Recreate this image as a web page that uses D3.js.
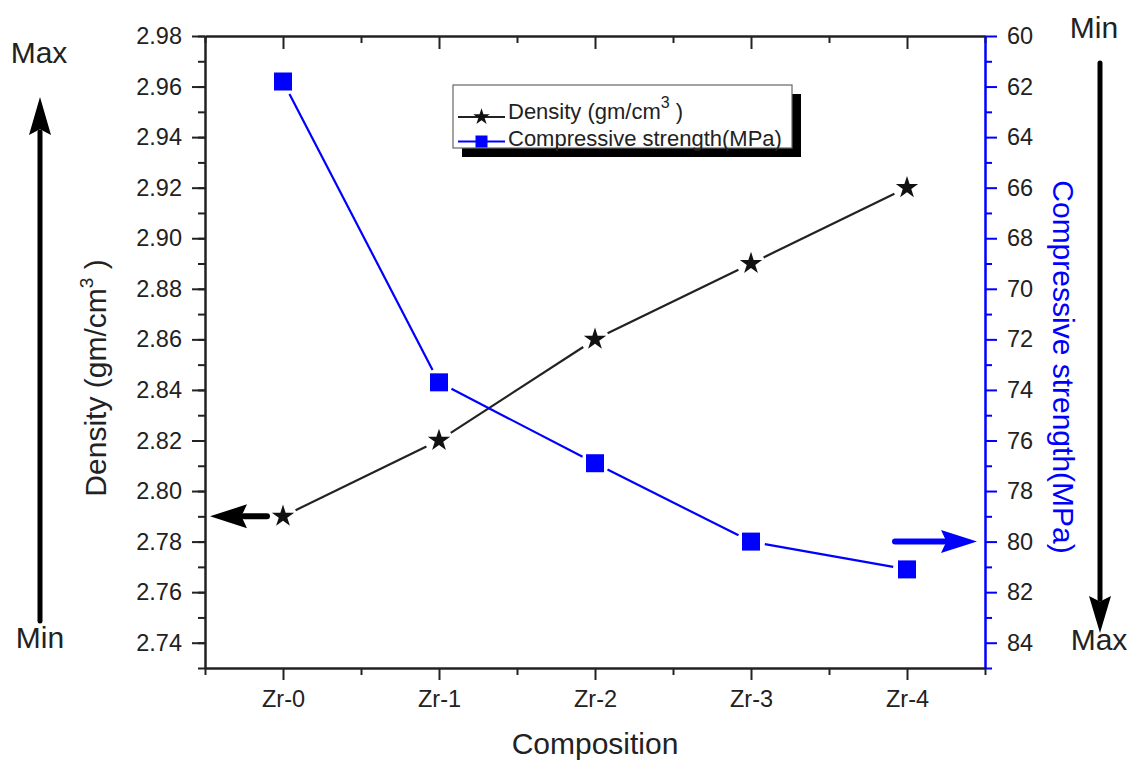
<!DOCTYPE html>
<html>
<head>
<meta charset="utf-8">
<script src="https://cdn.jsdelivr.net/npm/d3@7"></script>
<style>
  html, body { margin: 0; padding: 0; background: #fff; }
  svg { display: block; font-family: "Liberation Sans", Arial, sans-serif; }
  .axis text { fill: #222; font-size: 23.5px; font-family: "Liberation Sans", Arial, sans-serif; }
</style>
</head>
<body>
<svg id="chart" width="1128" height="762"></svg>
<script>
// Composition categories and measured properties
const categories = ["Zr-0", "Zr-1", "Zr-2", "Zr-3", "Zr-4"];
const density = [2.79, 2.82, 2.86, 2.89, 2.92];          // gm/cm^3
const strength = [61.8, 73.7, 76.9, 80.0, 81.1];         // MPa
const densityTicks = [2.74, 2.76, 2.78, 2.80, 2.82, 2.84, 2.86, 2.88, 2.90, 2.92, 2.94, 2.96, 2.98];
const strengthTicks = [60, 62, 64, 66, 68, 70, 72, 74, 76, 78, 80, 82, 84];
const densityMinor = d3.range(2.73, 2.985, 0.01).map(v => +v.toFixed(2));
const strengthMinor = d3.range(61, 86, 2);
const xMinor = [-0.5, 0.5, 1.5, 2.5, 3.5, 4.5];

const BLUE = "#0000ff";
const INK = "#222";

const svg = d3.select("#chart");

const pLeft = 205, pRight = 985, pTop = 36, pBottom = 668;

const x = d3.scaleLinear().domain([-0.5, 4.5]).range([pLeft, pRight]);
const yL = d3.scaleLinear().domain([2.73, 2.98]).range([pBottom, pTop]);
const yR = d3.scaleLinear().domain([85, 60]).range([pBottom, pTop]);

function styleAxis(g, color) {
  g.selectAll("path.domain").attr("stroke", color).attr("stroke-width", 2);
  g.selectAll(".tick line").attr("stroke", color).attr("stroke-width", 2);
}

// minor ticks (drawn first so the axis lines sit on top)
svg.append("g").attr("transform", `translate(${pLeft},0)`)
  .call(d3.axisLeft(yL).tickValues(densityMinor).tickSize(7).tickFormat("").tickSizeOuter(0))
  .call(g => styleAxis(g, INK));
svg.append("g").attr("transform", `translate(${pRight},0)`)
  .call(d3.axisRight(yR).tickValues(strengthMinor).tickSize(7).tickFormat("").tickSizeOuter(0))
  .call(g => styleAxis(g, BLUE));
svg.append("g").attr("transform", `translate(0,${pBottom})`)
  .call(d3.axisBottom(x).tickValues(xMinor).tickSize(7).tickFormat("").tickSizeOuter(0))
  .call(g => styleAxis(g, INK));
svg.append("g").attr("transform", `translate(0,${pTop})`)
  .call(d3.axisTop(x).tickValues(xMinor).tickSize(-7).tickFormat("").tickSizeOuter(0))
  .call(g => styleAxis(g, INK));

// major axes
svg.append("g").attr("class", "axis").attr("transform", `translate(0,${pTop})`)
  .call(d3.axisTop(x).tickValues([0, 1, 2, 3, 4]).tickSize(-13).tickFormat("").tickSizeOuter(0))
  .call(g => styleAxis(g, INK));
svg.append("g").attr("class", "axis").attr("transform", `translate(0,${pBottom})`)
  .call(d3.axisBottom(x).tickValues([0, 1, 2, 3, 4]).tickSize(12).tickPadding(10)
    .tickFormat(i => categories[i]).tickSizeOuter(0))
  .call(g => styleAxis(g, INK));
svg.append("g").attr("class", "axis").attr("transform", `translate(${pLeft},0)`)
  .call(d3.axisLeft(yL).tickValues(densityTicks).tickSize(13).tickPadding(10)
    .tickFormat(d3.format(".2f")).tickSizeOuter(0))
  .call(g => styleAxis(g, INK));
svg.append("g").attr("class", "axis").attr("transform", `translate(${pRight},0)`)
  .call(d3.axisRight(yR).tickValues(strengthTicks).tickSize(12).tickPadding(10).tickSizeOuter(0))
  .call(g => styleAxis(g, BLUE));

// axis titles
svg.append("text").attr("x", (pLeft + pRight) / 2).attr("y", 754)
  .attr("text-anchor", "middle").attr("font-size", 30).attr("fill", INK)
  .text("Composition");

const lt = svg.append("text")
  .attr("transform", "translate(106,378) rotate(-90)")
  .attr("text-anchor", "middle").attr("font-size", 30).attr("fill", INK);
lt.append("tspan").text("Density (gm/cm");
lt.append("tspan").attr("font-size", 19).attr("dy", -13).text("3");
lt.append("tspan").attr("dy", 13).text(" )");

svg.append("text")
  .attr("transform", "translate(1053,367) rotate(90)")
  .attr("text-anchor", "middle").attr("font-size", 30).attr("fill", BLUE)
  .text("Compressive strength(MPa)");

// connecting lines, stopped short of each marker
function gappedSegments(xs, ys, gap) {
  const segs = [];
  for (let i = 0; i < xs.length - 1; i++) {
    const x0 = xs[i], y0 = ys[i], x1 = xs[i + 1], y1 = ys[i + 1];
    const len = Math.hypot(x1 - x0, y1 - y0);
    const ux = (x1 - x0) / len, uy = (y1 - y0) / len;
    segs.push([x0 + ux * gap, y0 + uy * gap, x1 - ux * gap, y1 - uy * gap]);
  }
  return segs;
}

const px = categories.map((c, i) => x(i));
const plot = svg.append("g");

plot.selectAll("line.dens")
  .data(gappedSegments(px, density.map(yL), 14))
  .join("line").attr("class", "dens")
  .attr("x1", d => d[0]).attr("y1", d => d[1]).attr("x2", d => d[2]).attr("y2", d => d[3])
  .attr("stroke", INK).attr("stroke-width", 2.2);

plot.selectAll("line.str")
  .data(gappedSegments(px, strength.map(yR), 14))
  .join("line").attr("class", "str")
  .attr("x1", d => d[0]).attr("y1", d => d[1]).attr("x2", d => d[2]).attr("y2", d => d[3])
  .attr("stroke", BLUE).attr("stroke-width", 2.2);

const star = d3.symbol().type(d3.symbolStar).size(155);
plot.selectAll("path.star").data(density).join("path").attr("class", "star")
  .attr("transform", (d, i) => `translate(${x(i)},${yL(d)})`)
  .attr("d", star).attr("fill", "#111");

plot.selectAll("rect.sq").data(strength).join("rect").attr("class", "sq")
  .attr("x", (d, i) => x(i) - 9).attr("y", d => yR(d) - 9)
  .attr("width", 18).attr("height", 18).attr("fill", BLUE);

// legend
const lg = svg.append("g");
lg.append("rect").attr("x", 462).attr("y", 94).attr("width", 339).attr("height", 63).attr("fill", "#000");
lg.append("rect").attr("x", 453).attr("y", 85).attr("width", 339).attr("height", 63)
  .attr("fill", "#fff").attr("stroke", "#666").attr("stroke-width", 1.2);

lg.append("line").attr("x1", 458).attr("x2", 505).attr("y1", 117).attr("y2", 117)
  .attr("stroke", INK).attr("stroke-width", 2);
lg.append("path").attr("transform", "translate(481.5,117)")
  .attr("d", d3.symbol().type(d3.symbolStar).size(85)).attr("fill", "#111");
const l1 = lg.append("text").attr("x", 508).attr("y", 119).attr("font-size", 22).attr("fill", INK);
l1.append("tspan").text("Density (gm/cm");
l1.append("tspan").attr("font-size", 16).attr("dy", -11).text("3");
l1.append("tspan").attr("dy", 11).text(" )");

lg.append("line").attr("x1", 458).attr("x2", 505).attr("y1", 141.5).attr("y2", 141.5)
  .attr("stroke", BLUE).attr("stroke-width", 2);
lg.append("rect").attr("x", 475.5).attr("y", 135.5).attr("width", 12).attr("height", 12).attr("fill", BLUE);
lg.append("text").attr("x", 508).attr("y", 146).attr("font-size", 22).attr("fill", INK)
  .text("Compressive strength(MPa)");

// direction arrows
const arrows = svg.append("g");
function arrow(x0, y0, x1, y1, headLen, headW, width, color) {
  const len = Math.hypot(x1 - x0, y1 - y0);
  const ux = (x1 - x0) / len, uy = (y1 - y0) / len;
  const bx = x1 - ux * headLen, by = y1 - uy * headLen;
  arrows.append("line")
    .attr("x1", x0).attr("y1", y0).attr("x2", bx + ux * 3).attr("y2", by + uy * 3)
    .attr("stroke", color).attr("stroke-width", width).attr("stroke-linecap", "round");
  const nx = -uy, ny = ux;
  const notch = headLen * 0.15;
  arrows.append("path")
    .attr("d", `M${x1},${y1} L${bx + nx * headW / 2},${by + ny * headW / 2} ` +
      `L${bx + ux * notch},${by + uy * notch} L${bx - nx * headW / 2},${by - ny * headW / 2} Z`)
    .attr("fill", color);
}
// vertical Max/Min arrows
arrow(40, 621, 40, 97, 38, 22, 5, "#000");
arrow(1100, 63, 1100, 633, 37, 22, 5, "#000");
// arrows pointing each series to its axis
arrow(267, yL(density[0]), pLeft + 5, yL(density[0]), 37, 24, 6, "#000");
arrow(895, yR(80), pRight - 8, yR(80), 36, 23, 6, BLUE);

const lab = svg.append("g").attr("font-size", 30).attr("fill", INK).attr("text-anchor", "middle");
lab.append("text").attr("x", 39).attr("y", 63).text("Max");
lab.append("text").attr("x", 40).attr("y", 648).text("Min");
lab.append("text").attr("x", 1094).attr("y", 38).text("Min");
lab.append("text").attr("x", 1099).attr("y", 650).text("Max");
</script>
</body>
</html>
